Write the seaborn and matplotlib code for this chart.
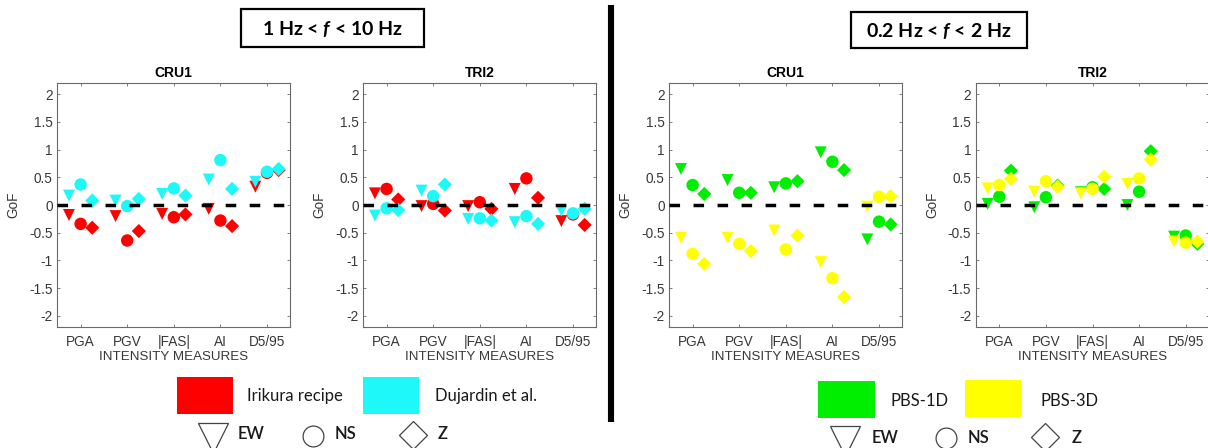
import numpy as np
import pandas as pd
import matplotlib
matplotlib.use("Agg")
import matplotlib.pyplot as plt
import seaborn as sns
from matplotlib.patches import Rectangle

# ---------------------------------------------------------------- data
measures = ["PGA", "PGV", "|FAS|", "AI", "D5/95"]
components = ["EW", "NS", "Z"]

# GoF values; one row per intensity measure, columns EW, NS, Z
# 1 Hz < f < 10 Hz
cru1_irikura = [[-0.18, -0.34, -0.41], [-0.20, -0.64, -0.47], [-0.16, -0.22, -0.17],
                [-0.07, -0.28, -0.38], [0.33, 0.58, 0.63]]
cru1_dujardin = [[0.17, 0.37, 0.08], [0.08, -0.02, 0.11], [0.20, 0.30, 0.17],
                 [0.46, 0.81, 0.29], [0.42, 0.60, 0.65]]
tri2_irikura = [[0.21, 0.29, 0.10], [-0.02, 0.02, -0.10], [-0.02, 0.05, -0.07],
                [0.29, 0.48, 0.13], [-0.29, -0.17, -0.36]]
tri2_dujardin = [[-0.19, -0.06, -0.09], [0.26, 0.16, 0.37], [-0.25, -0.24, -0.28],
                 [-0.31, -0.20, -0.34], [-0.10, -0.15, -0.07]]
# 0.2 Hz < f < 2 Hz
cru1_pbs1d = [[0.65, 0.36, 0.20], [0.45, 0.22, 0.22], [0.32, 0.39, 0.43],
              [0.95, 0.78, 0.63], [-0.62, -0.30, -0.35]]
cru1_pbs3d = [[-0.59, -0.88, -1.06], [-0.59, -0.70, -0.83], [-0.46, -0.80, -0.55],
              [-1.03, -1.32, -1.66], [-0.03, 0.15, 0.16]]
tri2_pbs1d = [[0.02, 0.15, 0.62], [-0.04, 0.14, 0.35], [0.23, 0.32, 0.29],
              [0.00, 0.24, 0.97], [-0.57, -0.55, -0.70]]
tri2_pbs3d = [[0.30, 0.36, 0.47], [0.24, 0.43, 0.33], [0.21, 0.29, 0.51],
              [0.38, 0.48, 0.82], [-0.66, -0.68, -0.66]]

ytick_values = [-2, -1.5, -1, -0.5, 0, 0.5, 1, 1.5, 2]

# ---------------------------------------------------------------- style
sns.set_theme(style="white")
plt.rcParams["font.family"] = ["Liberation Sans", "DejaVu Sans"]
plt.rcParams["mathtext.fontset"] = "custom"
plt.rcParams["mathtext.rm"] = "Lato:bold"
plt.rcParams["mathtext.it"] = "Lato:bold:italic"
plt.rcParams["mathtext.bf"] = "Lato:bold"

palette = {"Irikura recipe": "#ff0000", "Dujardin et al.": "#1ef8f8",
           "PBS-1D": "#00ee00", "PBS-3D": "#ffff00"}
marker_map = {"EW": "v", "NS": "o", "Z": "D"}
size_map = {"EW": 74, "NS": 80, "Z": 52}
offsets = {"EW": -0.25, "NS": 0.0, "Z": 0.25}
text_col = "#383838"
spine_col = "#6a6a6a"


def build_frame(series):
    rows = []
    for model, values in series:
        for i, m in enumerate(measures):
            for j, c in enumerate(components):
                rows.append({"model": model, "measure": m, "comp": c,
                             "pos": i + 1 + offsets[c], "gof": values[i][j]})
    return pd.DataFrame(rows)


panels = [
    ("CRU1", [("Irikura recipe", cru1_irikura), ("Dujardin et al.", cru1_dujardin)]),
    ("TRI2", [("Irikura recipe", tri2_irikura), ("Dujardin et al.", tri2_dujardin)]),
    ("CRU1", [("PBS-1D", cru1_pbs1d), ("PBS-3D", cru1_pbs3d)]),
    ("TRI2", [("PBS-1D", tri2_pbs1d), ("PBS-3D", tri2_pbs3d)]),
]

W, H = 1208, 448
fig = plt.figure(figsize=(W / 100, H / 100), dpi=100)
fig.patch.set_facecolor("white")

ax_left_px = [57.3, 363.3, 669.3, 976.0]
ax_w_px, ax_top_px, ax_bot_px = 233.0, 83.0, 327.0

for (title, series), left in zip(panels, ax_left_px):
    ax = fig.add_axes([left / W, 1 - ax_bot_px / H, ax_w_px / W, (ax_bot_px - ax_top_px) / H])
    df = build_frame(series)
    sns.scatterplot(data=df, x="pos", y="gof", hue="model", style="comp", size="comp",
                    hue_order=[s[0] for s in series], style_order=components,
                    size_order=components, markers=marker_map, sizes=size_map,
                    palette=palette, linewidth=0, legend=False, ax=ax, zorder=2)
    ax.axhline(0, color="black", lw=2.5, dashes=(7.6 / 2.5, 9.7 / 2.5), zorder=3)
    ax.set_xlim(0.5, 5.5)
    ax.set_ylim(-2.2, 2.2)
    ax.set_xticks(range(1, 6))
    ax.set_xticklabels(measures)
    ax.set_yticks(ytick_values)
    ax.set_yticklabels([f"{v:g}" for v in ytick_values])
    ax.tick_params(direction="in", length=2.5, width=0.6, colors=spine_col,
                   labelcolor=text_col, labelsize=9.8, top=True, right=True,
                   bottom=True, left=True)
    ax.tick_params(axis="x", pad=5.5)
    ax.tick_params(axis="y", pad=3.4)
    ax.set_xlabel("INTENSITY MEASURES", fontsize=9.6, color=text_col, labelpad=1.5)
    ax.set_ylabel("GoF", fontsize=9.8, color=text_col, labelpad=6)
    ax.set_title(title, fontsize=10, fontweight="bold", color="black", pad=4)
    for sp in ax.spines.values():
        sp.set_color(spine_col)
        sp.set_linewidth(0.8)
    ax.grid(False)

# ---------------------------------------------------------------- annotations (pixel space)
ov = fig.add_axes([0, 0, 1, 1], zorder=10)
ov.set_xlim(0, W)
ov.set_ylim(H, 0)
ov.axis("off")

lfont = ["Lato", "DejaVu Sans"]

# frequency band headers
for (x0, x1, y0, y1), label in [((240.7, 424.0, 9.3, 46.7), r"1 Hz < $f$ < 10 Hz"),
                                ((851.0, 1026.7, 11.7, 48.3), r"0.2 Hz < $f$ < 2 Hz")]:
    ov.add_patch(Rectangle((x0, y0), x1 - x0, y1 - y0, fill=False, ec="black", lw=1.6))
    ov.text((x0 + x1) / 2, (y0 + y1) / 2 + 1, label, ha="center", va="center",
            fontsize=14, fontweight="bold", family=lfont, color="black")

# separator
ov.plot([611, 611], [5, 422], color="black", lw=4.4, solid_capstyle="butt")

# model legends
legend_items = [
    ((176.7, 376.7, 56.6, 37.3), "Irikura recipe", (246.7, 396)),
    ((363.3, 376.7, 56.0, 37.0), "Dujardin et al.", (435.0, 396)),
    ((818.0, 381.0, 57.0, 37.0), "PBS-1D", (890.0, 401)),
    ((965.0, 380.0, 56.0, 37.0), "PBS-3D", (1040.0, 401)),
]
for (x, y, w, h), label, (tx, ty) in legend_items:
    ov.add_patch(Rectangle((x, y), w, h, color=palette[label], lw=0))
    ov.text(tx, ty, label, ha="left", va="center", fontsize=12, family=lfont, color="#1a1a1a")

# component legends
comp_items = [
    ((212.5, 438), "v", 21, "EW", (238, 434)),
    ((313.0, 436), "o", 15, "NS", (335, 434)),
    ((412.5, 435), "D", 14.5, "Z", (438, 434)),
    ((845.0, 441), "v", 21, "EW", (872, 438)),
    ((946.0, 438), "o", 15, "NS", (968, 438)),
    ((1045.0, 437), "D", 14.5, "Z", (1072, 438)),
]
for (mx, my), mk, ms, label, (tx, ty) in comp_items:
    ov.plot([mx], [my], marker=mk, ms=ms, mfc="white", mec="#444444", mew=0.9, ls="none")
    ov.text(tx, ty, label, ha="left", va="center", fontsize=12, fontweight="semibold",
            family=lfont, color="#1a1a1a")

fig.savefig("out.png", dpi=100, facecolor="white")
